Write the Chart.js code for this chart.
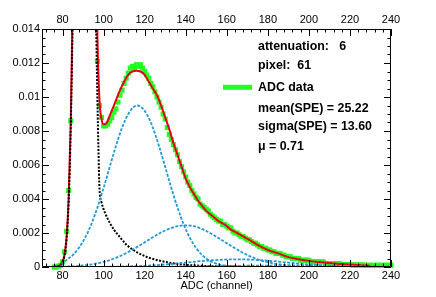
<!DOCTYPE html>
<html lang="en">
<head>
<meta charset="UTF-8" />
<title>ADC spectrum - pixel 61</title>
<style>
  html, body { margin: 0; padding: 0; background: #fff; }
  #wrap { width: 436px; height: 297px; }
</style>
</head>
<body>
<div id="wrap"><canvas id="adcChart" width="436" height="297"></canvas></div>
<script src="https://cdn.jsdelivr.net/npm/chart.js"></script>
<script>
// histogram, one bin per ADC channel starting at channel 76
const binStart = 76;
const binWidth = 1;
const adcData = [
  0, 0, 0.00005, 0.0001, 0.0003, 0.0009, 0.0021, 0.0045, 0.0086, 0.0162,         // 76-85
  0.028, 0.042, 0.057, 0.07, 0.077, 0.078, 0.072, 0.06, 0.045, 0.031,              // 86-95
  0.0195, 0.0121, 0.0095, 0.0088, 0.0083, 0.0083, 0.0084, 0.0086, 0.0088, 0.0091,  // 96-105
  0.0093, 0.0097, 0.0101, 0.0104, 0.0108, 0.0111, 0.0114, 0.0117, 0.0118, 0.0117,  // 106-115
  0.0119, 0.0118, 0.0119, 0.0117, 0.0115, 0.0113, 0.0111, 0.0108, 0.0106, 0.0103,  // 116-125
  0.0100, 0.0097, 0.0094, 0.0090, 0.0087, 0.0082, 0.0078, 0.0075, 0.0072, 0.0069,  // 126-135
  0.0066, 0.0062, 0.0059, 0.0056, 0.0053, 0.0050, 0.0048, 0.0045, 0.0043, 0.0041,  // 136-145
  0.0040, 0.0037, 0.0036, 0.0035, 0.0034, 0.0033, 0.0031, 0.0030, 0.0029, 0.0028,  // 146-155
  0.0027, 0.0027, 0.0025, 0.0025, 0.0024, 0.0023, 0.0023, 0.0021, 0.0020, 0.0020,  // 156-165
  0.0019, 0.0018, 0.0018, 0.0017, 0.0016, 0.0016, 0.0015, 0.0014, 0.0014, 0.0013,  // 166-175
  0.0012, 0.0012, 0.0011, 0.0011, 0.0010, 0.0010, 0.0009, 0.0009, 0.0008, 0.0008,  // 176-185
  0.0008, 0.0007, 0.0007, 0.0006, 0.0006, 0.0006, 0.0005, 0.0005, 0.0005, 0.0005,  // 186-195
  0.0004, 0.0004, 0.0004, 0.0004, 0.0004, 0.0003, 0.0003, 0.0003, 0.0003, 0.0003,  // 196-205
  0.0003, 0.0003, 0.0002, 0.0002, 0.0002, 0.0002, 0.0002, 0.0002, 0.0002, 0.0002,  // 206-215
  0.00015, 0.00015, 0.00015, 0.00015, 0.00015, 0.00012, 0.00012, 0.00012, 0.00012, 0.00012, // 216-225
  0.00012, 0.0001, 0.0001, 0.0001, 0.0001, 0.0001, 0.0001, 0.0001, 0.0001, 0.0001,  // 226-235
  0.0001, 0.0001, 0.0001, 0.0001, 0.0001                                             // 236-240
];

// total fit
const fitX = [76, 78, 79, 80, 81, 82, 83, 84, 85, 86, 88, 90.6, 93, 95, 96, 97, 98, 99, 100, 101, 102, 103, 104,
  106, 108, 110, 112, 114, 116, 118, 120, 122, 124, 126, 128, 130, 132, 134, 136, 138, 140, 142, 144, 146, 148,
  150, 153, 156, 159, 162, 165, 168, 171, 175, 180, 185, 190, 195, 200, 205, 210, 215, 220, 225, 230];
const fitY = [0.00001, 0.00005, 0.00013, 0.0003, 0.00075, 0.0018, 0.0041, 0.0085, 0.0158, 0.027, 0.06, 0.08, 0.06,
  0.034, 0.021, 0.0135, 0.0098, 0.0087, 0.0084, 0.0084, 0.0086, 0.0089, 0.0092, 0.0098, 0.0104, 0.0109, 0.0113,
  0.0115, 0.01155, 0.0115, 0.0113, 0.0109, 0.0105, 0.0101, 0.0095, 0.0088, 0.0081, 0.0073, 0.0066, 0.0059, 0.0052,
  0.0047, 0.0043, 0.0039, 0.0036, 0.0033, 0.003, 0.0027, 0.0025, 0.0022, 0.002, 0.0018, 0.0016, 0.0013, 0.001,
  0.0008, 0.00058, 0.00046, 0.00036, 0.00029, 0.00023, 0.00018, 0.00014, 0.00011, 0.00008];

// pedestal component
const pedX = [76, 78, 79, 80, 81, 82, 83, 84, 85, 86, 88, 90.6, 93, 95, 96, 97, 97.5, 98, 99, 100, 101, 103, 105,
  107, 109, 111, 113, 115, 117, 119, 122, 125, 128, 131, 135, 140, 145, 150, 155, 160, 170, 180];
const pedY = [0.00001, 0.00005, 0.00012, 0.00028, 0.0007, 0.0017, 0.0039, 0.0082, 0.0152, 0.026, 0.058, 0.077,
  0.058, 0.03, 0.0176, 0.0098, 0.0069, 0.0046, 0.0038, 0.0034, 0.0031, 0.0026, 0.0022, 0.0019, 0.0016, 0.00132,
  0.00113, 0.00096, 0.00082, 0.0007, 0.00055, 0.00044, 0.00035, 0.00028, 0.0002, 0.00013, 0.00009, 0.00006,
  0.00004, 0.00003, 0.00001, 0];

// photo-electron components
const pe1X = [79.5, 82, 85, 88, 91, 94, 97, 100, 103, 106, 109, 112, 115, 116.5, 118, 121, 124, 127, 130, 133,
  136, 139, 142, 145, 148, 151, 154, 157, 160, 165, 170];
const pe1Y = [0.00015, 0.00042, 0.0007, 0.00113, 0.00172, 0.00251, 0.0035, 0.00465, 0.00589, 0.00711, 0.0082,
  0.009, 0.00944, 0.0095, 0.00944, 0.009, 0.0082, 0.00711, 0.00589, 0.00465, 0.0035, 0.00251, 0.00172, 0.00113,
  0.0007, 0.00042, 0.00024, 0.00013, 0.00007, 0.00002, 0];
const pe2X = [80, 88, 94, 100, 106, 112, 118, 124, 130, 136, 140, 144, 150, 156, 162, 168, 174, 180, 186, 192,
  200, 210, 220];
const pe2Y = [0.00001, 0.00007, 0.00015, 0.0003, 0.00054, 0.00088, 0.0013, 0.00175, 0.00215, 0.0024, 0.00245,
  0.0024, 0.00212, 0.0017, 0.00125, 0.00083, 0.0005, 0.00028, 0.00015, 0.00007, 0.00002, 0, 0];
const pe3X = [80, 100, 110, 120, 130, 140, 150, 160, 165, 170, 180, 190, 200, 210, 220, 230, 240];
const pe3Y = [0, 0.00001, 0.00003, 0.00007, 0.00015, 0.00026, 0.00037, 0.00044, 0.00045, 0.00044, 0.00037,
  0.00026, 0.00015, 0.00007, 0.00003, 0.00001, 0];
const pe4X = [80, 120, 140, 160, 175, 190, 205, 220, 240];
const pe4Y = [0, 0.00001, 0.00003, 0.00006, 0.00008, 0.00009, 0.00008, 0.00006, 0.00003];

// axes
const xTicks = [80, 100, 120, 140, 160, 180, 200, 220, 240];
const yTicks = [0, 0.002, 0.004, 0.006, 0.008, 0.01, 0.012, 0.014];

// text box
const infoLines = ["attenuation:   6", "pixel:  61", "ADC data", "mean(SPE) = 25.22", "sigma(SPE) = 13.60", "\u03bc = 0.71"];

const zip = (xs, ys) => xs.map((x, i) => ({ x: x, y: ys[i] }));
const font = "Liberation Sans, Arial, Helvetica, sans-serif";
const peBlue = "#1e9ad6";
const dataGreen = "#22ff22";

function curve(label, xs, ys, color, width, dash, order) {
  return {
    label: label,
    data: zip(xs, ys),
    showLine: true,
    borderColor: color,
    borderWidth: width,
    borderDash: dash,
    pointRadius: 0,
    cubicInterpolationMode: "monotone",
    order: order,
  };
}

const frameTicks = {
  id: "frameTicks",
  afterDatasetsDraw(chart) {
    const { ctx, chartArea: a, scales } = chart;
    ctx.save();
    ctx.strokeStyle = "#000";
    ctx.lineWidth = 1;
    ctx.beginPath();
    ctx.rect(a.left + 0.5, a.top + 0.5, a.right - a.left - 1, a.bottom - a.top - 1);
    for (let v = 72; v <= 240; v += 4) {
      const px = Math.round(scales.x.getPixelForValue(v)) + 0.5;
      const len = v % 20 === 0 ? 7 : 3.5;
      ctx.moveTo(px, a.bottom); ctx.lineTo(px, a.bottom - len);
      ctx.moveTo(px, a.top); ctx.lineTo(px, a.top + len);
    }
    for (let i = 0; i <= 28; i++) {
      const v = i * 0.0005;
      const py = Math.round(scales.y.getPixelForValue(v)) + 0.5;
      const len = i % 4 === 0 ? 7 : 3.5;
      ctx.moveTo(a.left, py); ctx.lineTo(a.left + len, py);
      ctx.moveTo(a.right, py); ctx.lineTo(a.right - len, py);
    }
    ctx.stroke();

    // info box
    ctx.fillStyle = "#000";
    ctx.font = "bold 12.4px " + font;
    ctx.textBaseline = "middle";
    ctx.textAlign = "left";
    const rows = [46.7, 65.7, 87.3, 108.3, 126.7, 146.7];
    infoLines.forEach((t, i) => ctx.fillText(t, 258, rows[i]));
    ctx.strokeStyle = dataGreen;
    ctx.lineWidth = 5;
    ctx.setLineDash([]);
    ctx.beginPath();
    ctx.moveTo(223, rows[2]);
    ctx.lineTo(252, rows[2]);
    ctx.stroke();
    ctx.restore();
  },
};

new Chart(document.getElementById("adcChart"), {
  type: "scatter",
  data: {
    datasets: [
      {
        label: "ADC data",
        data: adcData.map((v, i) => ({ x: binStart + i * binWidth, y: v })),
        showLine: false,
        pointStyle: "rect",
        pointRadius: 3.6,
        pointBackgroundColor: dataGreen,
        pointBorderColor: dataGreen,
        pointBorderWidth: 0,
        clip: { left: 4, top: 0, right: 4, bottom: 4 },
        order: 9,
      },
      curve("fit", fitX, fitY, "#ff0000", 2, [], 8),
      curve("fit (dotted)", fitX, fitY, "rgba(0,0,255,0.6)", 1, [1, 3], 7),
      curve("pedestal", pedX, pedY, "#000000", 2, [2, 1.5], 6),
      curve("1 p.e.", pe1X, pe1Y, peBlue, 1.8, [3, 1.5], 5),
      curve("2 p.e.", pe2X, pe2Y, peBlue, 1.8, [3, 1.5], 4),
      curve("3 p.e.", pe3X, pe3Y, peBlue, 1.8, [3, 1.5], 3),
      curve("4 p.e.", pe4X, pe4Y, peBlue, 1.8, [3, 1.5], 2),
    ],
  },
  options: {
    responsive: false,
    animation: false,
    layout: { padding: { left: 0, right: 45, top: 0, bottom: 0 } },
    plugins: { legend: { display: false }, tooltip: { enabled: false } },
    scales: {
      x: {
        type: "linear",
        position: "bottom",
        min: 70,
        max: 240,
        afterFit: (s) => { s.height = 30; },
        afterBuildTicks: (s) => { s.ticks = xTicks.map((v) => ({ value: v })); },
        grid: { display: false, drawTicks: false },
        border: { display: false },
        ticks: { padding: 2, color: "#000", font: { family: font, size: 11 } },
        title: {
          display: true,
          text: "ADC (channel)",
          color: "#000",
          font: { family: font, size: 11 },
          padding: { top: 0, bottom: 4 },
        },
      },
      x2: {
        type: "linear",
        position: "top",
        min: 70,
        max: 240,
        afterFit: (s) => { s.height = 29; },
        afterBuildTicks: (s) => { s.ticks = xTicks.map((v) => ({ value: v })); },
        grid: { display: false, drawTicks: false },
        border: { display: false },
        ticks: { padding: 2, color: "#000", font: { family: font, size: 11 } },
      },
      y: {
        type: "linear",
        min: 0,
        max: 0.014,
        afterFit: (s) => { s.width = 42; },
        afterBuildTicks: (s) => { s.ticks = yTicks.map((v) => ({ value: v })); },
        grid: { display: false, drawTicks: false },
        border: { display: false },
        ticks: {
          padding: 2,
          color: "#000",
          font: { family: font, size: 11 },
          callback: (v) => String(Number(v.toFixed(3))),
        },
      },
    },
  },
  plugins: [frameTicks],
});
</script>
</body>
</html>
